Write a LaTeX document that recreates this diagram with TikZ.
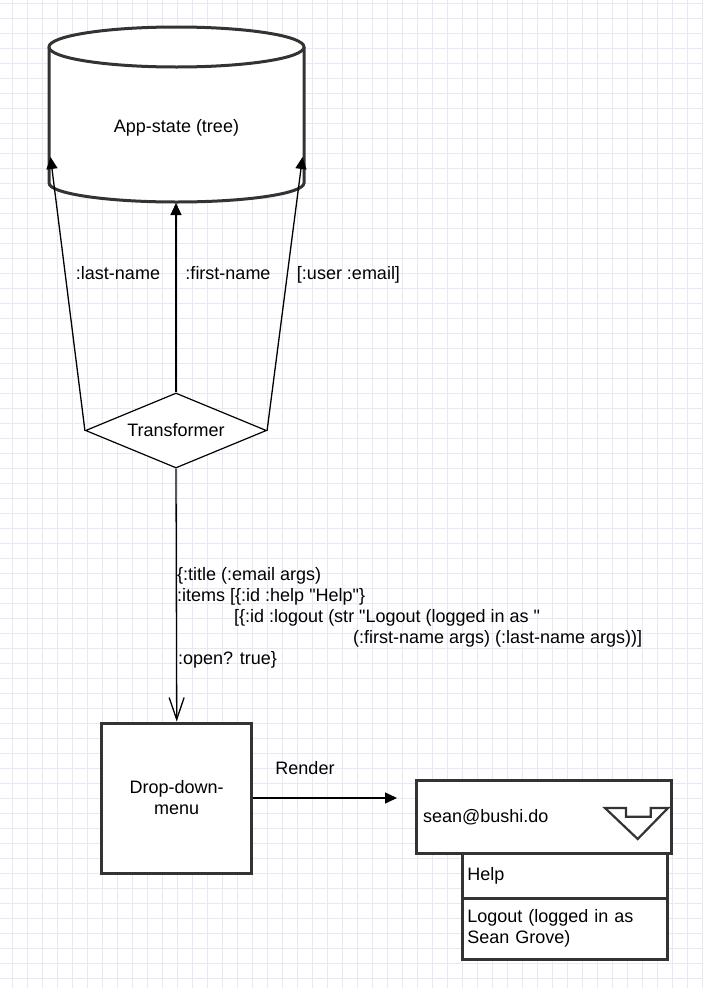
\documentclass[tikz,border=0pt]{standalone}
\usepackage{fontspec}
\setmainfont{Liberation Sans}[Ligatures=TeXOff]
\usetikzlibrary{arrows.meta,shapes.geometric}
\definecolor{gridc}{HTML}{E8E8F5}
\definecolor{edge}{HTML}{333333}
\begin{document}
\begin{tikzpicture}[x=1pt,y=-1pt,
  every node/.style={font=\fontsize{18}{21}\selectfont, text=black},
  lbl/.style={anchor=base, inner sep=0},
  codeline/.style={anchor=base west, inner sep=0},
  thickbox/.style={draw=edge, line width=3pt, fill=white},
  conn/.style={line width=1.3pt, draw=black},
  filltip/.style={-{Triangle[length=12pt,width=11pt]}},
  opentip/.style={-{Straight Barb[length=22pt,width=15pt]}},
]
\useasboundingbox (0,0) rectangle (702,988);
\fill[white] (0,0) rectangle (702,988);
\foreach \i in {0,...,46} \draw[gridc, line width=1pt] (12+15*\i,0) -- (12+15*\i,988);
\foreach \j in {0,...,65} \draw[gridc, line width=1pt] (0,3+15*\j) -- (702,3+15*\j);

% cylinder App-state
\fill[white] (49,47) -- (49,183) arc[start angle=180,end angle=0,x radius=127.5,y radius=19] -- (304,47) -- cycle;
\draw[edge, line width=3pt] (49,47) -- (49,183) arc[start angle=180,end angle=0,x radius=127.5,y radius=19] -- (304,47);
\draw[thickbox] (176.5,47) ellipse[x radius=127.5, y radius=20];
\node[lbl] (app) at (176.5,132) {App-state (tree)};
\coordinate (appL) at (50.5,157);
\coordinate (appR) at (302.5,157);
\coordinate (appB) at (176,203);

% transformer
\node[draw=black, line width=1.2pt, fill=white, diamond, aspect=2.41,
      minimum width=181pt, minimum height=75pt, inner sep=0] (tr) at (176,430.5) {Transformer};

\draw[conn, filltip] (tr.west) -- (appL);
\draw[conn, filltip] (tr.north) -- (appB);
\draw[conn, filltip] (tr.east) -- (appR);

\node[lbl] (lnm) at (118,279) {:last-name};
\node[lbl] (fnm) at (228,279) {:first-name};
\node[lbl] (uem) at (348.5,279) {[:user :email]};

% drop-down-menu
\node[thickbox, minimum width=150pt, minimum height=150pt, align=center, inner sep=0] (dd) at (176.7,798) {Drop-down-\\menu};
\draw[conn, opentip] (tr.south) -- (dd.north);

\node[codeline] (c1) at (177,580.5) {\{:title (:email args)};
\node[codeline] (c2) at (177,601.5) {:items [\{:id :help "Help"\}};
\node[codeline] (c3) at (234,622.5) {[\{:id :logout (str "Logout (logged in as "};
\node[codeline] (c4) at (353,643.5) {(:first-name args) (:last-name args))]};
\node[codeline] (c5) at (178,664.5) {:open? true\}};

\coordinate (rend) at (397,798);
\draw[conn, filltip] (dd.east) -- (rend);
\node[lbl] (rl) at (305,774) {Render};

% rendered widget
\node[thickbox, minimum height=73.5pt, text width=241.5pt, inner xsep=7pt, align=left] (sel) at (543.75,816.75) {sean@bushi.do};
\node[thickbox, minimum height=45pt, text width=195pt, inner xsep=5pt, align=left] (help) at (564.8,875.9) {Help};
\node[thickbox, minimum height=61pt, text width=195pt, inner xsep=5pt, align=left] (logout) at (564.8,928.8) {Logout (logged in as\\Sean Grove)};
\draw[edge, line width=2.2pt, fill=white, line join=miter]
  (605,808) -- (626,808) -- (626,816.7) -- (650.7,816.7) -- (650.7,808) -- (668,808) -- (637.7,839) -- cycle;
\end{tikzpicture}
\end{document}
